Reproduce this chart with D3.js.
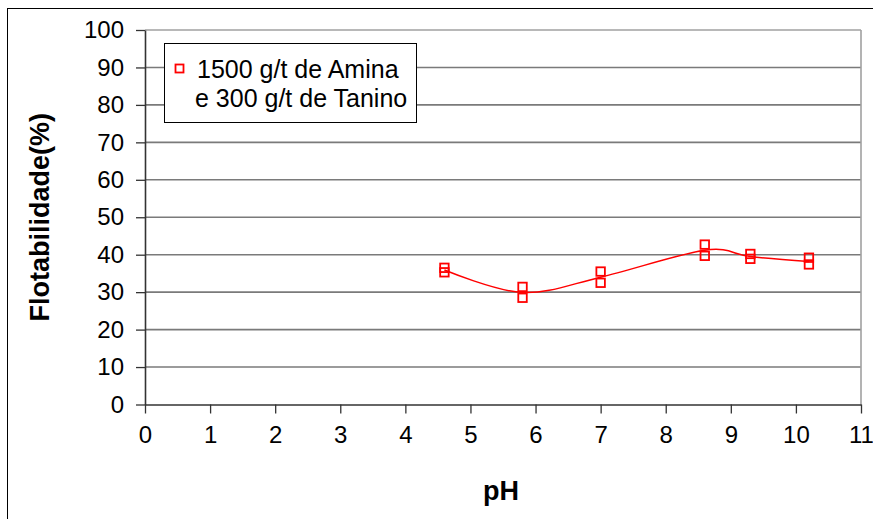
<!DOCTYPE html>
<html><head><meta charset="utf-8">
<script src="https://cdn.jsdelivr.net/npm/d3@7"></script>
<style>body{margin:0;background:#fff}svg{display:block}</style>
</head><body>
<script>
// Data
const phValues   = [4.6, 4.6, 5.8, 5.8, 7.0, 7.0, 8.6, 8.6, 9.3, 9.3, 10.2, 10.2];
const flotValues = [36.5, 35.3, 31.4, 28.5, 35.5, 32.5, 42.7, 39.7, 40.2, 38.9, 39.2, 37.4];
const trendPH    = [4.6, 5.8, 7.0, 8.6, 9.3, 10.2];
const trendFlot  = [35.9, 29.9, 34.0, 41.2, 39.5, 38.2];
const xTicks = [0,1,2,3,4,5,6,7,8,9,10,11];
const yTicks = [0,10,20,30,40,50,60,70,80,90,100];
const legendLines = ["1500 g/t de Amina", "e 300 g/t de Tanino"];
const xTitle = "pH";
const yTitle = "Flotabilidade(%)";

(function () {
const W = 873, H = 519;
const pL = 145, pR = 861, pT = 30, pB = 404.5;
const font = "Arial, 'Liberation Sans', sans-serif";

const svg = d3.select("body").append("svg").attr("width", W).attr("height", H);
svg.append("rect").attr("width", W).attr("height", H).attr("fill", "#fff");
// outer chart frame
svg.append("rect").attr("x", 7.5).attr("y", 8.5).attr("width", W).attr("height", H)
  .attr("fill", "none").attr("stroke", "#000").attr("stroke-width", 1);

const x = d3.scaleLinear().domain([0, 11]).range([pL, pR]);
const y = d3.scaleLinear().domain([0, 100]).range([pB, pT]);

// gridlines
svg.append("g").selectAll("line").data(yTicks.filter(d => d > 0)).join("line")
  .attr("x1", pL).attr("x2", pR)
  .attr("y1", d => y(d)).attr("y2", d => y(d))
  .attr("stroke", d => d === 100 ? "#a0a0a0" : "#7a7a7a").attr("stroke-width", 1.6);
// right border
svg.append("line").attr("x1", pR).attr("x2", pR).attr("y1", pT).attr("y2", pB)
  .attr("stroke", "#a0a0a0").attr("stroke-width", 1.6);

// axes
const xAxis = d3.axisBottom(x).tickValues(xTicks).tickSize(9).tickPadding(12).tickSizeOuter(0);
const gx = svg.append("g").attr("transform", `translate(0,${pB})`).call(xAxis);
const yAxis = d3.axisLeft(y).tickValues(yTicks).tickSize(9).tickPadding(12).tickSizeOuter(0);
const gy = svg.append("g").attr("transform", `translate(${pL},0)`).call(yAxis);
[gx, gy].forEach(g => {
  g.select(".domain").attr("stroke", "#333").attr("stroke-width", 1.6);
  g.selectAll(".tick line").attr("stroke", "#333").attr("stroke-width", 1.3);
  g.selectAll("text").attr("font-family", font).attr("font-size", 24).attr("fill", "#000");
});

// trend line (smoothed)
const line = d3.line().x((d, i) => x(trendPH[i])).y(d => y(d)).curve(d3.curveCardinal.tension(0));
svg.append("path").datum(trendFlot).attr("d", line)
  .attr("fill", "none").attr("stroke", "#ff0000").attr("stroke-width", 1.5);

// markers
const s = 8.5;
svg.append("g").selectAll("rect").data(flotValues).join("rect")
  .attr("x", (d, i) => x(phValues[i]) - s / 2).attr("y", d => y(d) - s / 2)
  .attr("width", s).attr("height", s)
  .attr("fill", "none").attr("stroke", "#ff0000").attr("stroke-width", 1.8);

// axis titles
svg.append("text").attr("x", (pL + pR) / 2 - 2).attr("y", 500)
  .attr("text-anchor", "middle").attr("font-family", font).attr("font-weight", "bold")
  .attr("font-size", 27).text(xTitle);
svg.append("text").attr("transform", `translate(49,${(pT + pB) / 2}) rotate(-90)`)
  .attr("text-anchor", "middle").attr("font-family", font).attr("font-weight", "bold")
  .attr("font-size", 27).text(yTitle);

// legend
const lg = svg.append("g");
lg.append("rect").attr("x", 164.5).attr("y", 43.5).attr("width", 252).attr("height", 79)
  .attr("fill", "#fff").attr("stroke", "#000").attr("stroke-width", 1);
lg.append("rect").attr("x", 175.5).attr("y", 64.5).attr("width", 8).attr("height", 8)
  .attr("fill", "none").attr("stroke", "#ff0000").attr("stroke-width", 1.8);
lg.selectAll("text.l").data(legendLines).join("text").attr("class", "l")
  .attr("x", (d, i) => i === 0 ? 197 : 195).attr("y", (d, i) => 78 + i * 29)
  .attr("font-family", font).attr("font-size", 25).text(d => d);
})();
</script>
</body></html>
